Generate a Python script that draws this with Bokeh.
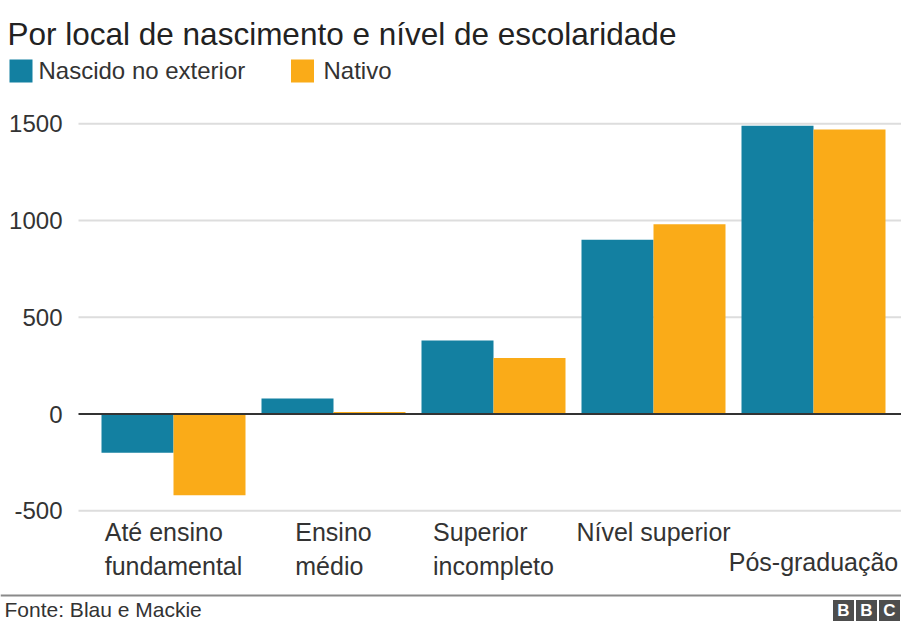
from bokeh.plotting import figure
from bokeh.models import Range1d
from bokeh.core.properties import value
from bokeh.embed import file_html
from bokeh.resources import INLINE

# ---------------- data ----------------
categories = ["Até ensino\nfundamental", "Ensino\nmédio", "Superior\nincompleto",
              "Nível superior", "Pós-graduação"]
series_names = ["Nascido no exterior", "Nativo"]
nascido_exterior = [-200, 80, 380, 900, 1490]
nativo = [-420, 10, 290, 980, 1470]
y_ticks = [-500, 0, 500, 1000, 1500]
title_text = "Por local de nascimento e nível de escolaridade"
source_text = "Fonte: Blau e Mackie"
logo_letters = ["B", "B", "C"]

# ---------------- layout helpers ----------------
W, H = 901, 623
X0, XS = 173.0, 160.0      # px of first category centre, px per category
Y0, YS = 413.5, 0.1935     # px of zero line, px per unit


def dx(px):
    return (px - X0) / XS


def dy(py):
    return (Y0 - py) / YS


BLUE = "#1380A1"
ORANGE = "#FAAB18"
FONT = value("Liberation Sans")

p = figure(width=W, height=H,
           x_range=Range1d(dx(0), dx(W)), y_range=Range1d(dy(H), dy(0)),
           x_axis_type=None, y_axis_type=None,
           toolbar_location=None, output_backend="svg",
           min_border=0, outline_line_color=None)
p.background_fill_color = "white"
p.border_fill_color = "white"

# grid lines
grid_vals = [t for t in y_ticks if t != 0]
p.segment(x0=[dx(78)] * len(grid_vals), x1=[dx(W)] * len(grid_vals),
          y0=grid_vals, y1=grid_vals, line_color="#dddddd", line_width=2)

# bars
idx = list(range(len(categories)))
bw = 0.45
p.vbar(x=[i - bw / 2 for i in idx], top=nascido_exterior, bottom=0, width=bw,
       fill_color=BLUE, line_color=None)
p.vbar(x=[i + bw / 2 for i in idx], top=nativo, bottom=0, width=bw,
       fill_color=ORANGE, line_color=None)

# zero line
p.segment(x0=[dx(78)], x1=[dx(W)], y0=[0], y1=[0], line_color="#333333", line_width=2)

# y tick labels
p.text(x=[dx(62)] * len(y_ticks), y=y_ticks, text=[str(t) for t in y_ticks],
       text_align="right", text_baseline="middle", text_font=FONT,
       text_font_size="24px", text_color="#333333")

# x category labels (last one staggered to second row)
rows = [0, 0, 0, 0, 1]
lx, ly, lt = [], [], []
for i, c in enumerate(categories):
    lx.append(i)
    ly.append(dy(517 + 30 * rows[i]))
    lt.append(c)
p.text(x=lx, y=ly, text=lt, anchor="top_center", text_align="left",
       text_baseline="top", text_line_height=1.22, text_font=FONT,
       text_font_size="25px", text_color="#333333")

# title
p.text(x=[dx(7)], y=[dy(33)], text=[title_text], text_align="left",
       text_baseline="alphabetic", text_font=FONT, text_font_size="31.5px",
       text_color="#222222")

# legend
p.scatter(x=[dx(20.5)], y=[dy(70.5)], marker="square", size=23,
          fill_color=BLUE, line_color=None)
p.scatter(x=[dx(302)], y=[dy(70.5)], marker="square", size=23,
          fill_color=ORANGE, line_color=None)
p.text(x=[dx(38), dx(323)], y=[dy(70)] * 2, text=series_names,
       text_align="left", text_baseline="middle", text_font=FONT,
       text_font_size="24px", text_color="#333333")

# footer
p.segment(x0=[dx(0)], x1=[dx(W)], y0=[dy(595)], y1=[dy(595)],
          line_color="#8a8a8a", line_width=2)
p.text(x=[dx(4)], y=[dy(609)], text=[source_text], text_align="left",
       text_baseline="middle", text_font=FONT, text_font_size="21px",
       text_color="#333333")
logo_px = [843, 866, 889]
p.scatter(x=[dx(v) for v in logo_px], y=[dy(610)] * 3, marker="square",
          size=21, fill_color="#4d4d4d", line_color=None)
p.text(x=[dx(v) for v in logo_px], y=[dy(610)] * 3, text=logo_letters,
       text_align="center", text_baseline="middle", text_font=FONT,
       text_font_size="17px", text_font_style="bold", text_color="white")

open("out.html", "w").write(file_html(p, INLINE, title="Por local de nascimento"))
